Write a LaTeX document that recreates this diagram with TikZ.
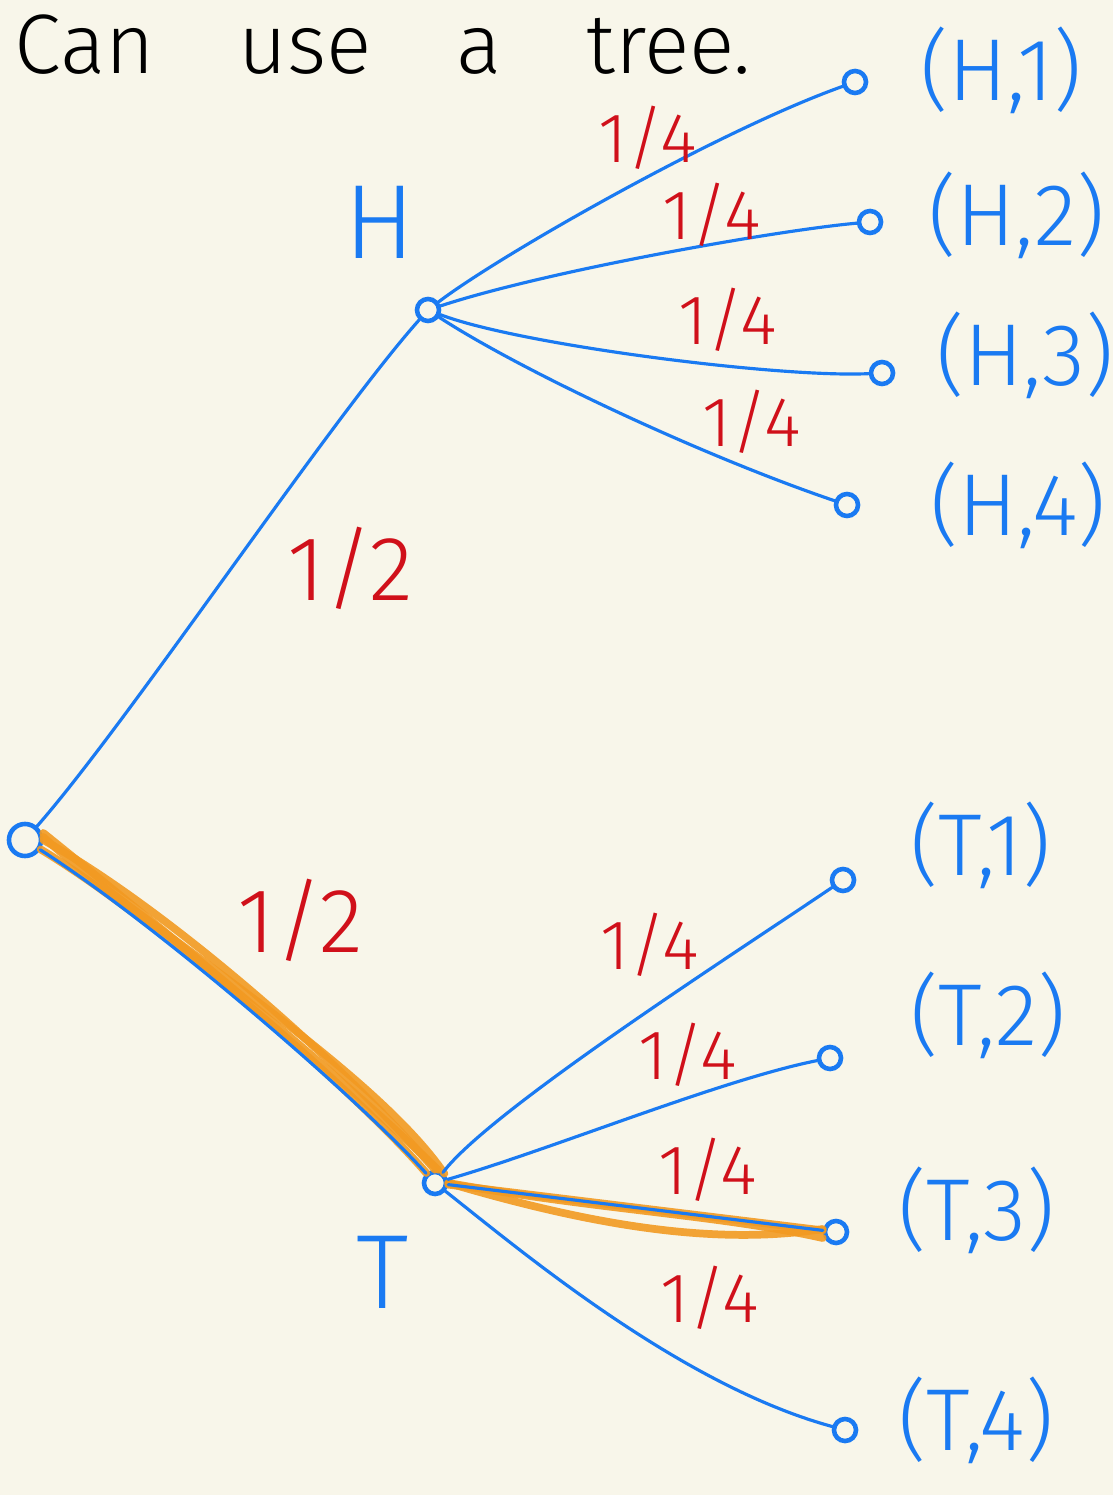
\documentclass[tikz,border=0pt]{standalone}
\usepackage{fontspec}
\setmainfont{Fira Sans}[UprightFont=* Light]
\definecolor{bg}{HTML}{F8F6EA}
\definecolor{pen}{HTML}{1A7AF2}
\definecolor{redpen}{HTML}{D0101A}
\definecolor{orangepen}{HTML}{F29A22}
\tikzset{
  dot/.style={circle,draw=pen,line width=1.3pt,minimum size=0.22cm,inner sep=0pt},
  edge/.style={draw=pen,line width=0.9pt,line cap=round},
  hl/.style={draw=orangepen,line width=2.2pt,line cap=round,opacity=0.9},
  leaflabel/.style={text=pen,anchor=west,font=\fontsize{25}{29}\selectfont},
  prob/.style={text=redpen,font=\fontsize{20}{24}\selectfont},
  probbig/.style={text=redpen,font=\fontsize{26}{30}\selectfont},
  inner/.style={text=pen,font=\fontsize{30}{34}\selectfont}
}
\begin{document}
\begin{tikzpicture}[x=0.01cm,y=-0.01cm]
\fill[bg] (0,0) rectangle (1113,1495);
\useasboundingbox (0,0) rectangle (1113,1495);

\node[anchor=west,font=\fontsize{24}{28}\selectfont] (title) at (2,45) {Can\quad use\quad a\quad tree.};

% nodes
\node[dot,minimum width=0.2cm,minimum height=0.32cm] (root) at (25,840) {};
\node[dot] (H) at (428,310) {};
\node[dot] (T) at (435,1183) {};
\node[dot] (H1) at (855,82) {};
\node[dot] (H2) at (870,222) {};
\node[dot] (H3) at (882,373) {};
\node[dot] (H4) at (847,505) {};
\node[dot] (T1) at (843,880) {};
\node[dot] (T2) at (830,1058) {};
\node[dot] (T3) at (836,1232) {};
\node[dot] (T4) at (845,1430) {};

% inner labels
\node[inner] (Hlab) at (380,222) {H};
\node[inner] (Tlab) at (383,1272) {T};

% leaf labels
\node[leaflabel] (lH1) at (908,70) {(H,1)};
\node[leaflabel] (lH2) at (916,215) {(H,2)};
\node[leaflabel] (lH3) at (924,355) {(H,3)};
\node[leaflabel] (lH4) at (918,505) {(H,4)};
\node[leaflabel] (lT1) at (898,845) {(T,1)};
\node[leaflabel] (lT2) at (898,1015) {(T,2)};
\node[leaflabel] (lT3) at (886,1210) {(T,3)};
\node[leaflabel] (lT4) at (886,1420) {(T,4)};

% highlight (under)
\draw[hl] (root) .. controls (150,915) and (350,1085) .. (T);
\draw[hl] ([yshift=0.07cm]root.east) .. controls (170,935) and (340,1075) .. ([xshift=0.03cm]T.north);
\draw[hl] ([yshift=0.03cm]root.east) .. controls (140,925) and (370,1065) .. (T.north east);
\draw[hl] (root.east) .. controls (160,905) and (330,1050) .. (T.north);
\draw[hl] (T) -- (T3);
\draw[hl] (T.east) .. controls (600,1210) and (720,1215) .. ([yshift=-0.06cm]T3.west);
\draw[hl] (T.east) .. controls (600,1228) and (720,1245) .. ([yshift=0.03cm]T3.west);

% edges
\draw[edge] (root) .. controls (130,720) and (330,420) .. (H);
\draw[edge] (root) .. controls (150,920) and (350,1090) .. (T);
\draw[edge] (H) .. controls (500,255) and (720,130) .. (H1);
\draw[edge] (H) .. controls (550,270) and (780,230) .. (H2);
\draw[edge] (H) .. controls (520,345) and (780,378) .. (H3);
\draw[edge] (H) .. controls (520,370) and (700,455) .. (H4);
\draw[edge] (T) .. controls (490,1110) and (740,950) .. (T1);
\draw[edge] (T) .. controls (550,1150) and (720,1080) .. (T2);
\draw[edge] (T) -- (T3);
\draw[edge] (T) .. controls (520,1250) and (680,1385) .. (T4);

% probabilities
\node[probbig] (p1) at (350,568) {1/2};
\node[probbig] (p2) at (300,920) {1/2};
\node[prob] (h1) at (648,138) {1/4};
\node[prob] (h2) at (712,215) {1/4};
\node[prob] (h3) at (728,320) {1/4};
\node[prob] (h4) at (752,422) {1/4};
\node[prob] (t1) at (650,945) {1/4};
\node[prob] (t2) at (688,1055) {1/4};
\node[prob] (t3) at (708,1170) {1/4};
\node[prob] (t4) at (710,1298) {1/4};
\end{tikzpicture}
\end{document}
